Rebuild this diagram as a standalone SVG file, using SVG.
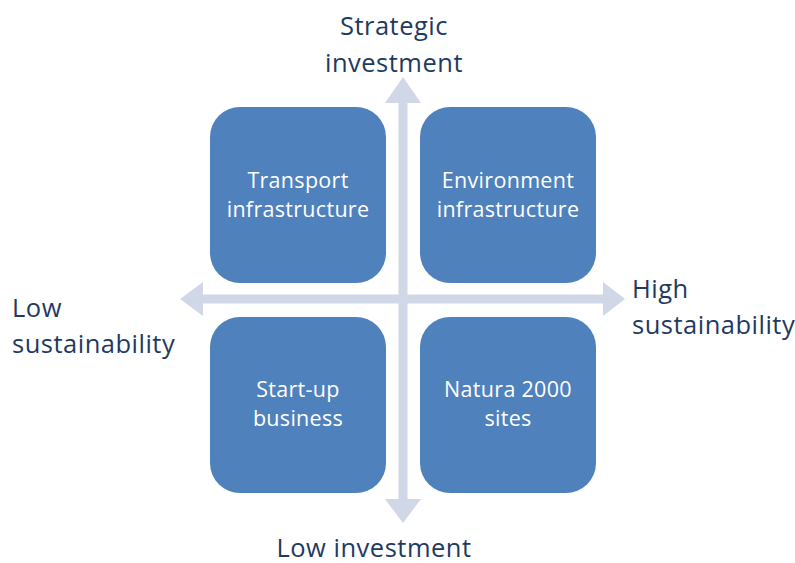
<svg xmlns="http://www.w3.org/2000/svg" width="795" height="563" viewBox="0 0 795 563">
<style>
.box{fill:#4F81BD}
.bt{fill:#FFFFFF;font-family:"Open Sans","Liberation Sans",sans-serif;font-size:21.5px;letter-spacing:0.3px;text-anchor:middle}
.ax{fill:#D0D8E8}
.lb{fill:#1F3A5F;font-family:"Open Sans","Liberation Sans",sans-serif;font-size:25.5px;letter-spacing:0.5px}
</style>
<rect width="795" height="563" fill="#FFFFFF"/>
<g id="axes">
<polygon class="ax" points="403,77 421,103 407.5,103 407.5,499 421,499 403,523 385,499 398.5,499 398.5,103 385,103"/>
<polygon class="ax" points="180,299 203,282 203,294.5 603,294.5 603,282 625,299 603,316 603,303.5 203,303.5 203,316"/>
</g>
<g id="n1"><rect class="box" x="210" y="107" width="176" height="176" rx="30"/><text class="bt" x="298" y="188">Transport</text><text class="bt" x="298" y="217">infrastructure</text></g>
<g id="n2"><rect class="box" x="420" y="107" width="176" height="176" rx="30"/><text class="bt" x="508" y="188">Environment</text><text class="bt" x="508" y="217">infrastructure</text></g>
<g id="n3"><rect class="box" x="210" y="317" width="176" height="176" rx="30"/><text class="bt" x="298" y="397">Start-up</text><text class="bt" x="298" y="426">business</text></g>
<g id="n4"><rect class="box" x="420" y="317" width="176" height="176" rx="30"/><text class="bt" x="508" y="397">Natura 2000</text><text class="bt" x="508" y="426">sites</text></g>
<g id="labels">
<text class="lb" x="394" y="35" text-anchor="middle">Strategic</text>
<text class="lb" x="394" y="72" text-anchor="middle">investment</text>
<text class="lb" x="374" y="557" text-anchor="middle">Low investment</text>
<text class="lb" x="12" y="317">Low</text>
<text class="lb" x="12" y="353">sustainability</text>
<text class="lb" x="632" y="298">High</text>
<text class="lb" x="632" y="334">sustainability</text>
</g>
</svg>
